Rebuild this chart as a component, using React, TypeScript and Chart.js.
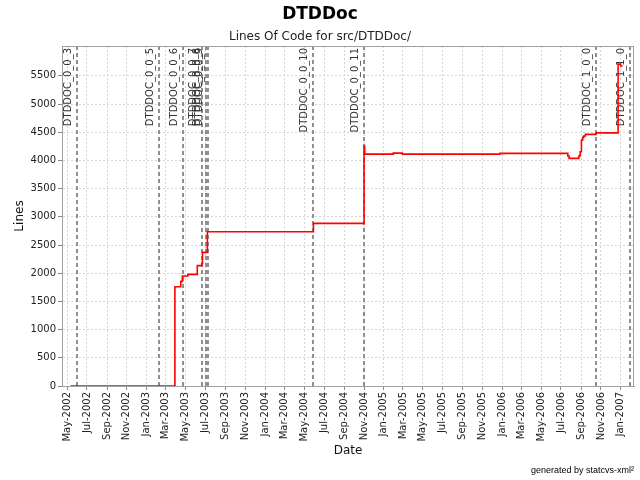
import React, { useEffect, useRef } from "react";
import { Chart, registerables } from "chart.js";

Chart.register(...registerables);

const chartTitle = "DTDDoc";
const chartSubtitle = "Lines Of Code for src/DTDDoc/";
const footnote = "generated by statcvs-xml\u00B2";
const xAxisTitle = "Date";
const yAxisTitle = "Lines";

const locDates = [
  "2002-05-12", "2003-03-29", "2003-04-16", "2003-04-21", "2003-05-08",
  "2003-06-06", "2003-06-20", "2003-06-22", "2003-07-07", "2004-05-29",
  "2004-11-01", "2004-11-03", "2005-01-30", "2005-02-27", "2005-12-25",
  "2006-07-22", "2006-07-26", "2006-08-25", "2006-08-29", "2006-09-02",
  "2006-09-06", "2006-09-09", "2006-09-14", "2006-10-17", "2006-12-24",
  "2007-01-01", "2007-01-07",
];
const locValues = [
  0, 1760, 1856, 1950, 1980,
  2135, 2175, 2370, 2735, 2885,
  4255, 4113, 4130, 4113, 4125,
  4078, 4037, 4078, 4154, 4362,
  4410, 4433, 4462, 4490, 5709,
  5674, 5674,
];

const markerLabels = [
  "DTDDOC_0_0_3", "DTDDOC_0_0_5", "DTDDOC_0_0_6", "DTDDOC_0_0_7", "DTDDOC_0_0_8",
  "DTDDOC_0_0_9", "DTDDOC_0_0_10", "DTDDOC_0_0_11", "DTDDOC_1_0_0", "DTDDOC_1_1_0",
];
const markerDates = [
  "2002-05-31", "2003-02-09", "2003-04-22", "2003-06-22", "2003-07-02",
  "2003-07-08", "2004-05-29", "2004-11-01", "2006-10-18", "2007-01-31",
];

const xTickLabels = [
  "May-2002", "Jul-2002", "Sep-2002", "Nov-2002",
  "Jan-2003", "Mar-2003", "May-2003", "Jul-2003", "Sep-2003", "Nov-2003",
  "Jan-2004", "Mar-2004", "May-2004", "Jul-2004", "Sep-2004", "Nov-2004",
  "Jan-2005", "Mar-2005", "May-2005", "Jul-2005", "Sep-2005", "Nov-2005",
  "Jan-2006", "Mar-2006", "May-2006", "Jul-2006", "Sep-2006", "Nov-2006",
  "Jan-2007",
];
const yTickValues = [0, 500, 1000, 1500, 2000, 2500, 3000, 3500, 4000, 4500, 5000, 5500];
const xRange = ["2002-04-15", "2007-02-11"];
const yMax = 6030;

const MONTHS = ["Jan", "Feb", "Mar", "Apr", "May", "Jun", "Jul", "Aug", "Sep", "Oct", "Nov", "Dec"];
const toMs = (s: string) => {
  const [y, m, d] = s.split("-").map(Number);
  return Date.UTC(y, m - 1, d);
};
const labelToMs = (l: string) => {
  const [mon, yr] = l.split("-");
  return Date.UTC(Number(yr), MONTHS.indexOf(mon), 1);
};

const FONT = "'DejaVu Sans', sans-serif";

const overlayPlugin = {
  id: "overlay",
  beforeDatasetsDraw(chart: any) {
    const { ctx, chartArea: a, scales } = chart;
    const x = scales.x;
    ctx.save();
    markerDates.forEach((d, i) => {
      const px = Math.round(x.getPixelForValue(toMs(d)));
      ctx.strokeStyle = "#8f8f8f";
      ctx.lineWidth = 2;
      ctx.setLineDash([4, 3]);
      ctx.beginPath();
      ctx.moveTo(px, a.top);
      ctx.lineTo(px, a.bottom);
      ctx.stroke();
      ctx.setLineDash([]);
      ctx.save();
      ctx.translate(px - 6, a.top + 2);
      ctx.rotate(-Math.PI / 2);
      ctx.font = `10px ${FONT}`;
      ctx.fillStyle = "#333";
      ctx.textAlign = "right";
      ctx.textBaseline = "alphabetic";
      ctx.fillText(markerLabels[i], 0, 0);
      ctx.restore();
    });
    ctx.restore();
  },
  afterDraw(chart: any) {
    const { ctx, chartArea: a } = chart;
    ctx.save();
    ctx.strokeStyle = "#a0a0a0";
    ctx.lineWidth = 1;
    ctx.strokeRect(a.left + 0.5, a.top + 0.5, a.right - a.left - 1, a.bottom - a.top);
    ctx.fillStyle = "#000";
    ctx.textAlign = "center";
    ctx.textBaseline = "middle";
    ctx.font = `bold 17px ${FONT}`;
    ctx.fillText(chartTitle, 320, 15);
    ctx.font = `12px ${FONT}`;
    ctx.fillStyle = "#222";
    ctx.fillText(chartSubtitle, 320, 37);
    ctx.textAlign = "right";
    ctx.font = `9px 'Liberation Sans', sans-serif`;
    ctx.fillStyle = "#000";
    ctx.fillText(footnote, 634, 471);
    ctx.restore();
  },
};

export default function App() {
  const ref = useRef<HTMLCanvasElement | null>(null);
  useEffect(() => {
    if (!ref.current) return;
    const chart = new Chart(ref.current, {
      type: "line",
      data: {
        datasets: [
          {
            data: locDates.map((d, i) => ({ x: toMs(d), y: locValues[i] })),
            borderColor: "#ff0000",
            borderWidth: 1.6,
            pointRadius: 0,
            stepped: "before",
            fill: false,
          },
        ],
      },
      options: {
        animation: false,
        responsive: false,
        maintainAspectRatio: false,
        layout: { padding: { top: 46, right: 6, left: 0, bottom: 20 } },
        plugins: {
          legend: { display: false },
          tooltip: { enabled: false },
          title: { display: false },
        },
        scales: {
          x: {
            type: "linear",
            min: toMs(xRange[0]),
            max: toMs(xRange[1]),
            afterBuildTicks: (s: any) => {
              s.ticks = xTickLabels.map((l) => ({ value: labelToMs(l) }));
            },
            afterFit: (s: any) => {
              s.height = 74;
            },
            ticks: {
              autoSkip: false,
              maxRotation: 90,
              minRotation: 90,
              padding: 2,
              color: "#222",
              font: { family: FONT, size: 10 },
              callback: (_v: any, i: number) => xTickLabels[i],
            },
            grid: {
              color: "#d4d4d4",
              lineWidth: 1,
              tickLength: 4,
              tickColor: "#888",
              tickBorderDash: [],
            },
            border: { display: true, color: "#a0a0a0", dash: [2, 2] },
            title: {
              display: true,
              text: xAxisTitle,
              color: "#111",
              font: { family: FONT, size: 12 },
              padding: { top: 0, bottom: 2 },
            },
          },
          y: {
            type: "linear",
            min: 0,
            max: yMax,
            afterBuildTicks: (s: any) => {
              s.ticks = yTickValues.map((v) => ({ value: v }));
            },
            afterFit: (s: any) => {
              s.width = 62;
            },
            ticks: {
              autoSkip: false,
              padding: 2,
              color: "#222",
              font: { family: FONT, size: 10 },
              callback: (v: any) => String(v),
            },
            grid: {
              color: "#d4d4d4",
              lineWidth: 1,
              tickLength: 4,
              tickColor: "#888",
              tickBorderDash: [],
            },
            border: { display: true, color: "#a0a0a0", dash: [2, 2] },
            title: {
              display: true,
              text: yAxisTitle,
              color: "#111",
              font: { family: FONT, size: 12 },
              padding: { top: 13, bottom: 0 },
            },
          },
        },
      },
      plugins: [overlayPlugin],
    } as any);
    return () => chart.destroy();
  }, []);
  return (
    <div style={{ position: "fixed", left: 0, top: 0, width: 640, height: 480, background: "#fff" }}>
      <canvas ref={ref} width={640} height={480} />
    </div>
  );
}
